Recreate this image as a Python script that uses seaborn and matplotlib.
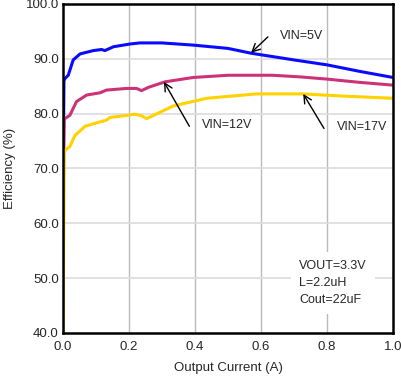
import pandas as pd
import seaborn as sns
import matplotlib.pyplot as plt

# Efficiency vs output current
current_5v = [0.0005, 0.003, 0.006, 0.016, 0.031, 0.052, 0.092, 0.117, 0.127, 0.153,
              0.203, 0.233, 0.30, 0.395, 0.50, 0.572, 0.70, 0.80, 0.90, 1.0]
eff_5v = [66.0, 86.0, 86.4, 87.0, 89.8, 90.9, 91.5, 91.7, 91.5, 92.2,
          92.7, 92.9, 92.9, 92.5, 91.9, 91.0, 89.8, 88.9, 87.7, 86.6]

current_12v = [0.0005, 0.004, 0.011, 0.021, 0.041, 0.072, 0.112, 0.132, 0.193, 0.223,
               0.238, 0.259, 0.309, 0.395, 0.50, 0.636, 0.72, 0.80, 0.90, 1.0]
eff_12v = [64.0, 79.0, 79.3, 79.7, 82.2, 83.4, 83.8, 84.3, 84.6, 84.6,
           84.2, 84.8, 85.8, 86.6, 87.0, 87.0, 86.7, 86.3, 85.7, 85.2]

current_17v = [0.0005, 0.004, 0.008, 0.021, 0.036, 0.067, 0.112, 0.132, 0.142, 0.183,
               0.218, 0.238, 0.254, 0.334, 0.435, 0.587, 0.727, 0.85, 1.0]
eff_17v = [40.0, 73.0, 73.4, 74.0, 76.0, 77.7, 78.5, 78.8, 79.3, 79.6,
           79.9, 79.6, 79.1, 81.4, 82.8, 83.6, 83.6, 83.2, 82.8]

labels = ['VIN=5V', 'VIN=12V', 'VIN=17V']
colors = ['#0a0aff', '#cc3377', '#ffd200']

df = pd.concat([
    pd.DataFrame({'current': current_5v, 'eff': eff_5v, 'vin': labels[0]}),
    pd.DataFrame({'current': current_12v, 'eff': eff_12v, 'vin': labels[1]}),
    pd.DataFrame({'current': current_17v, 'eff': eff_17v, 'vin': labels[2]}),
])

sns.set_style('white')
plt.rcParams['font.family'] = ['Liberation Sans', 'DejaVu Sans']

fig = plt.figure(figsize=(4.01, 3.76), dpi=100)
ax = fig.add_axes([0.157, 0.1144, 0.823, 0.875])

# grid: vertical darker, horizontal lighter
for xv in [0.2, 0.4, 0.6, 0.8]:
    ax.axvline(xv, color='#bbbbbb', lw=1, zorder=0)
for yv in [50, 60, 70, 80, 90]:
    ax.axhline(yv, color='#dcdcdc', lw=1.2, zorder=0)

sns.lineplot(data=df, x='current', y='eff', hue='vin', palette=colors,
             hue_order=labels, lw=2.2, legend=False, ax=ax, zorder=3,
             estimator=None, sort=False)

ax.set_xlim(0, 1.0)
ax.set_ylim(40, 100)
ax.set_xticks([0.0, 0.2, 0.4, 0.6, 0.8, 1.0])
ax.set_xticklabels(['0.0', '0.2', '0.4', '0.6', '0.8', '1.0'])
ax.set_yticks([40, 50, 60, 70, 80, 90, 100])
ax.set_yticklabels(['40.0', '50.0', '60.0', '70.0', '80.0', '90.0', '100.0'])
ax.tick_params(axis='y', length=0, labelsize=9.5, pad=3)
ax.tick_params(axis='x', length=0, labelsize=9.5, pad=6)
ax.set_xlabel('Output Current (A)', fontsize=9.5, labelpad=6)
ax.set_ylabel('Efficiency (%)', fontsize=9.5, labelpad=7)
for sp in ax.spines.values():
    sp.set_color('black')
    sp.set_linewidth(1.8)
    sp.set_zorder(5)

# arrows and their labels
arrow = dict(arrowstyle='->', color='black', lw=1, mutation_scale=14,
             shrinkA=0, shrinkB=0)
arrows = [((0.570, 91.1), (0.621, 94.0)),
          ((0.306, 85.8), (0.383, 77.7)),
          ((0.728, 83.6), (0.791, 77.3))]
text_pos = [(0.658, 94.2), (0.42, 77.9), (0.829, 77.5)]
for (tip, tail), pos, lab in zip(arrows, text_pos, labels):
    ax.annotate('', xy=tip, xytext=tail, arrowprops=arrow, zorder=6)
    ax.text(pos[0], pos[1], lab, fontsize=9, va='center', ha='left', zorder=6)

ax.text(0.715, 49.1, 'VOUT=3.3V\nL=2.2uH\nCout=22uF', fontsize=9,
        va='center', ha='left', linespacing=1.55, zorder=4,
        bbox=dict(facecolor='white', edgecolor='none', pad=6))

fig.savefig('out.png', dpi=100)
